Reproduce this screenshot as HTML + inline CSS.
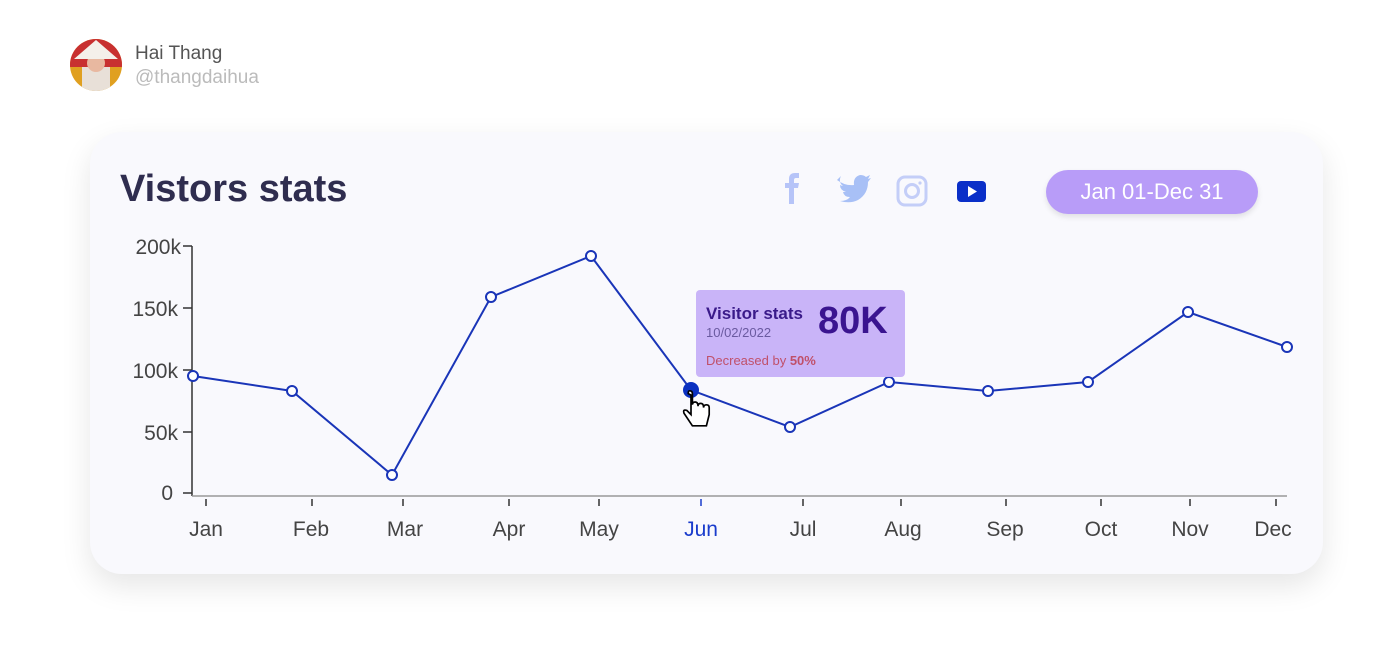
<!DOCTYPE html>
<html><head><meta charset="utf-8"><style>
body{margin:0;width:1400px;height:664px;background:#fff;font-family:"Liberation Sans",sans-serif;position:relative;overflow:hidden}
.card{position:absolute;left:90px;top:132px;width:1233px;height:442px;border-radius:32px;background:#f9f9fd;box-shadow:0 12px 30px rgba(0,0,0,0.10)}
</style></head><body>
<svg width="56" height="56" style="position:absolute;left:68px;top:37px" viewBox="0 0 56 56">
<defs><clipPath id="c"><circle cx="28" cy="28" r="26"/></clipPath></defs>
<g clip-path="url(#c)"><rect width="56" height="56" fill="#e0a020"/><rect x="0" y="0" width="56" height="30" fill="#c83030"/><rect x="14" y="30" width="28" height="26" fill="#e8e0d8"/><circle cx="28" cy="26" r="9" fill="#e8b8a0"/><polygon points="28,3 6,22 50,22" fill="#f4f0ea"/></g></svg>
<div style="position:absolute;left:135px;top:43px;font-size:19px;color:#555">Hai Thang</div>
<div style="position:absolute;left:135px;top:67px;font-size:19px;color:#bbb">@thangdaihua</div>
<div class="card"></div>
<div style="position:absolute;left:120px;top:168px;font-size:38px;font-weight:bold;color:#2f2d4f">Vistors stats</div>
<div style="position:absolute;left:1046px;top:170px;width:212px;height:44px;border-radius:22px;background:#b89cf8;box-shadow:0 3px 6px rgba(0,0,0,0.1);color:#fff;font-size:22px;line-height:44px;text-align:center">Jan 01-Dec 31</div>
<svg width="1400" height="664" style="position:absolute;left:0;top:0">
<path d="M789 204 v-16 h-4 v-5 h4 v-4 q0-6 6-6 h4 v5 h-3 q-2 0-2 2 v3 h5 l-1 5 h-4 v16z" fill="#b6c4f8"/>
<path d="M837 180 q8 6 17 5 q-1-8 6-10 q4 0 6 2 l4-2 -2 4 3-1 -3 4 q0 12-10 18 q-8 4-18 1 q7 0 10-4 q-6 0-7-5 h3 q-6-2-6-7 q2 1 3 1 q-5-4-2-10z" fill="#a8c0f6"/>
<rect x="898" y="177" width="28" height="28" rx="7" fill="none" stroke="#c4cef8" stroke-width="3"/><circle cx="912" cy="191" r="6.5" fill="none" stroke="#c4cef8" stroke-width="3"/><circle cx="920" cy="183" r="1.6" fill="#c4cef8"/>
<rect x="957" y="181" width="29" height="21" rx="4" fill="#0a2fc8"/><polygon points="968,186 968,197 977,191.5" fill="#fff"/>
<g stroke="#333" stroke-width="1.5" fill="none">
<line x1="192" y1="246" x2="192" y2="496"/><line x1="192" y1="496" x2="1287" y2="496" stroke="#999"/>
<line x1="183" y1="246" x2="192" y2="246"/><line x1="183" y1="308" x2="192" y2="308"/><line x1="183" y1="370" x2="192" y2="370"/><line x1="183" y1="432" x2="192" y2="432"/><line x1="183" y1="493" x2="192" y2="493"/>
<path d="M206 499v7M312 499v7M403 499v7M509 499v7M599 499v7M803 499v7M901 499v7M1006 499v7M1101 499v7M1190 499v7M1276 499v7"/>
<path d="M701 499v7" stroke="#1a3ccc"/>
</g>
<g font-size="21" fill="#444" text-anchor="end" font-family="Liberation Sans">
<text x="181" y="254">200k</text><text x="178" y="316">150k</text><text x="178" y="378">100k</text><text x="178" y="440">50k</text><text x="173" y="500">0</text></g>
<g font-size="21" fill="#444" text-anchor="middle" font-family="Liberation Sans">
<text x="206" y="536">Jan</text><text x="311" y="536">Feb</text><text x="405" y="536">Mar</text><text x="509" y="536">Apr</text><text x="599" y="536">May</text><text x="701" y="536" fill="#1a3ccc">Jun</text><text x="803" y="536">Jul</text><text x="903" y="536">Aug</text><text x="1005" y="536">Sep</text><text x="1101" y="536">Oct</text><text x="1190" y="536">Nov</text><text x="1273" y="536">Dec</text></g>
<polyline points="193,376 292,391 392,475 491,297 591,256 691,390 790,427 889,382 988,391 1088,382 1188,312 1287,347" fill="none" stroke="#1a35b8" stroke-width="2"/>
<g fill="#fff" stroke="#1a35b8" stroke-width="2">
<circle cx="193" cy="376" r="5"/><circle cx="292" cy="391" r="5"/><circle cx="392" cy="475" r="5"/><circle cx="491" cy="297" r="5"/><circle cx="591" cy="256" r="5"/><circle cx="790" cy="427" r="5"/><circle cx="889" cy="382" r="5"/><circle cx="988" cy="391" r="5"/><circle cx="1088" cy="382" r="5"/><circle cx="1188" cy="312" r="5"/><circle cx="1287" cy="347" r="5"/></g>
<rect x="696" y="290" width="209" height="87" rx="4" fill="#c6b0f8" opacity="0.95"/>
<text x="706" y="319" font-size="17" font-weight="bold" fill="#3a1a8a" font-family="Liberation Sans">Visitor stats</text>
<text x="706" y="337" font-size="13" fill="#6a5aa0" font-family="Liberation Sans">10/02/2022</text>
<text x="818" y="333" font-size="38" font-weight="bold" fill="#3a1490" font-family="Liberation Sans">80K</text>
<text x="706" y="365" font-size="13" fill="#c0506a" font-family="Liberation Sans">Decreased by <tspan font-weight="bold">50%</tspan></text>
<circle cx="691" cy="390" r="8" fill="#0a30c0"/>
<g transform="translate(691,395) scale(1.4) translate(-688,-398)">
<path d="M688 398 v14 l-3-3 q-3-1-2 2 l6 9 h10 l2-8 v-5 q0-2-2-2 q-2 0-2 2 q0-3-2-3 q-2 0-2 2 q0-3-2-3 q-2 0-2 2 v-8 q0-2-2-2 q-1 0-1 2z" fill="#fff" stroke="#000" stroke-width="1.2"/></g>
</svg>
</body></html>
